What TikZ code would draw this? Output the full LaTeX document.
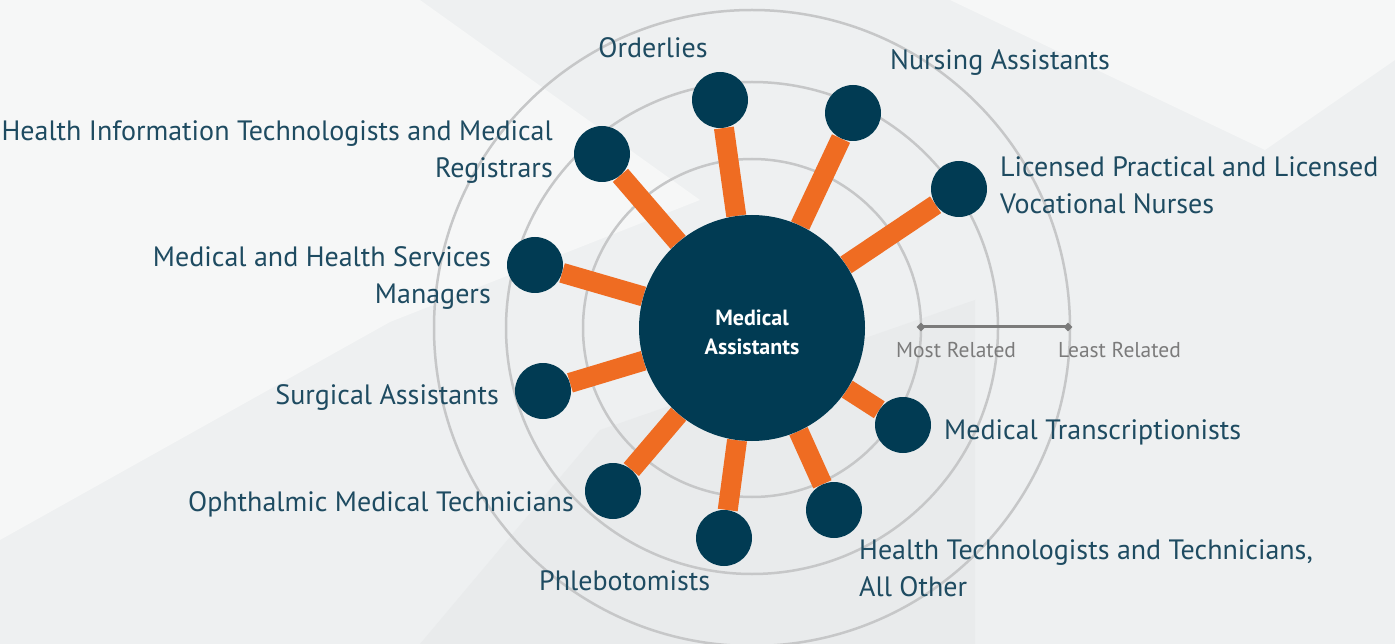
\documentclass[tikz,border=0pt]{standalone}
\usepackage{fontspec}
\setmainfont{PT Sans}
\usetikzlibrary{shapes.geometric}
\definecolor{navy}{HTML}{013B53}
\definecolor{orng}{HTML}{EF6C22}
\definecolor{lbl}{HTML}{1E4B61}
\definecolor{ringc}{HTML}{C6C7C8}
\definecolor{scl}{HTML}{7B7B7B}
\definecolor{bgc}{HTML}{EEF0F1}
\definecolor{bgl}{HTML}{F6F7F7}
\definecolor{bgd}{HTML}{E9EBEC}
\pgfdeclarelayer{bg}\pgfdeclarelayer{mid}\pgfsetlayers{bg,mid,main}
\begin{document}
\begin{tikzpicture}[x=1pt,y=-1pt,
  sat/.style={circle,fill=navy,minimum size=56pt,inner sep=0pt},
  hub/.style={circle,fill=navy,minimum size=226pt,inner sep=0pt},
  hubtext/.style={text=white,font=\bfseries\fontsize{22}{29}\selectfont,align=center,inner sep=0pt},
  conn/.style={draw=orng,line width=20pt},
  lab/.style={text=lbl,font=\fontsize{28}{37}\selectfont,inner sep=0pt},
  ringline/.style={draw=ringc,line width=2.5pt},
  sclab/.style={text=scl,font=\fontsize{21.5}{24}\selectfont,inner sep=0pt},
  tick/.style={diamond,fill=scl,minimum size=9pt,inner sep=0pt}]
\useasboundingbox (0,0) rectangle (1395,644);
\begin{pgfonlayer}{bg}
  \fill[bgc] (0,0) rectangle (1395,644);
  \fill[bgl] (0,0) -- (420,0) -- (700,200) -- (390,322) -- (0,540) -- cycle;
  \fill[bgl] (950,0) -- (1395,0) -- (1395,60) -- (1265,150) -- cycle;
  \fill[bgd] (600,430) -- (975,300) -- (975,644) -- (420,644) -- cycle;
  \draw[ringline] (752,328) circle (169);
  \draw[ringline] (752,328) circle (246);
  \draw[ringline] (752,328) circle (318);
\end{pgfonlayer}

\node[hub] (c) at (752,328) {};
\node[hubtext] (ctext) at (752,332) {Medical\\Assistants};
\node[sat] (ord) at (720,100) {};
\node[sat] (nur) at (853,113) {};
\node[sat] (lic) at (959,189) {};
\node[sat] (hi) at (602,154) {};
\node[sat] (mhs) at (535,265) {};
\node[sat] (sur) at (543,391) {};
\node[sat] (oph) at (613,491) {};
\node[sat] (phl) at (724,538) {};
\node[sat] (ht) at (834,510) {};
\node[sat] (mt) at (903,425) {};

\begin{pgfonlayer}{mid}
  \foreach \s in {ord,nur,lic,hi,mhs,sur,oph,phl,ht,mt}
    \draw[conn] (c) -- (\s);
\end{pgfonlayer}

\node[lab,anchor=base] (tord) at (653,58) {Orderlies};
\node[lab,anchor=base west] (tnur) at (890,70) {Nursing Assistants};
\node[lab,anchor=base west,align=left] (tlic) at (1000,214) {Licensed Practical and Licensed\\Vocational Nurses};
\node[lab,anchor=base east,align=right] (thi) at (553,178) {Health Information Technologists and Medical\\Registrars};
\node[lab,anchor=base east,align=right] (tmhs) at (491,304) {Medical and Health Services\\Managers};
\node[lab,anchor=base east] (tsur) at (499,404) {Surgical Assistants};
\node[lab,anchor=base east] (toph) at (574,511) {Ophthalmic Medical Technicians};
\node[lab,anchor=base west] (tphl) at (539,590) {Phlebotomists};
\node[lab,anchor=base west] (tmt) at (944,439) {Medical Transcriptionists};
\node[lab,anchor=base west,align=left] (tht) at (859,596) {Health Technologists and Technicians,\\All Other};

\node[tick] (d1) at (921,327) {};
\node[tick] (d2) at (1068,327) {};
\draw[scl,line width=3pt] (d1.center) -- (d2.center);
\node[sclab,anchor=base west] (most) at (896,357) {Most Related};
\node[sclab,anchor=base west] (least) at (1058,357) {Least Related};
\end{tikzpicture}
\end{document}
